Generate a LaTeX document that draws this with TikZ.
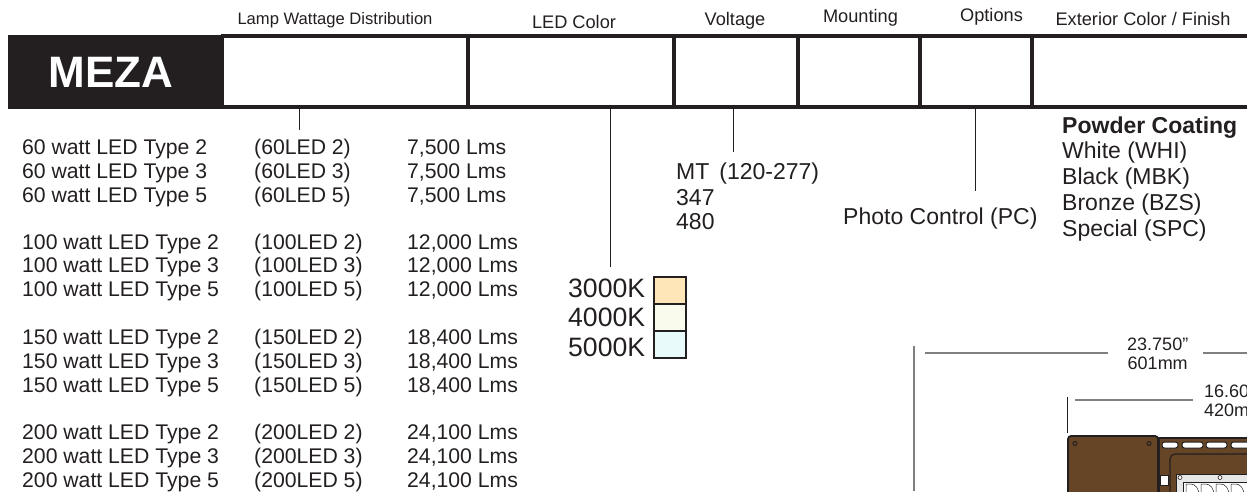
\documentclass[tikz,border=0pt]{standalone}
\usepackage{fontspec}
\setmainfont{Liberation Sans}
\definecolor{ink}{HTML}{231F20}
\definecolor{dimline}{HTML}{808080}
\definecolor{warmled}{HTML}{FFE6B8}
\definecolor{neutralled}{HTML}{F9FCEC}
\definecolor{coolled}{HTML}{E8FAFA}
\definecolor{finish}{HTML}{654525}
\definecolor{platefill}{HTML}{E6E6E6}

\begin{document}
\begin{tikzpicture}[x=1pt,y=-1pt,
  cell/.style={draw=ink,line width=3.6pt,fill=white,inner sep=0pt,minimum height=71pt},
  head/.style={text=ink,font=\fontsize{18.2}{20}\selectfont,inner sep=0pt},
  row/.style={text=ink,font=\fontsize{21.2}{24}\selectfont,inner sep=0pt,anchor=base west},
  opt/.style={text=ink,font=\fontsize{23}{26}\selectfont,inner sep=0pt,anchor=base west},
  big/.style={text=ink,font=\fontsize{26.6}{29}\selectfont,inner sep=0pt,anchor=base west},
  dim/.style={text=ink,font=\fontsize{18}{19}\selectfont,inner sep=0pt},
  swatch/.style={draw=ink,line width=1.2pt,minimum width=32pt,minimum height=27pt,inner sep=0pt},
  tick/.style={draw=ink,line width=1pt},
  dimrule/.style={draw=dimline,line width=1.3pt}]
\useasboundingbox (0,0) rectangle (1247,491);

% order bar
\node[cell,minimum width=246pt] (lamp) at (345.5,71.5) {};
\node[cell,minimum width=206pt] (color) at (571,71.5) {};
\node[cell,minimum width=124pt] (volt) at (736,71.5) {};
\node[cell,minimum width=122pt] (mount) at (859,71.5) {};
\node[cell,minimum width=112pt] (options) at (976,71.5) {};
\node[cell,minimum width=240pt] (ext) at (1152,71.5) {};
\node[fill=ink,minimum width=215pt,minimum height=74pt,inner sep=0pt] (bar) at (115.5,71.5) {};
\node[text=white,font=\fontsize{44}{50}\bfseries\selectfont,inner sep=0pt] (meza) at (111,72.5) {MEZA};

\node[head,font=\fontsize{16.6}{18}\selectfont] (h1) at (335,20) {Lamp Wattage Distribution};
\node[head] (h2) at (574,22) {LED Color};
\node[head] (h3) at (735,21) {Voltage};
\node[head] (h4) at (860.5,18) {Mounting};
\node[head] (h5) at (991.5,17) {Options};
\node[head] (h6) at (1143,19) {Exterior Color / Finish};

% wattage table
\node[row] (a1) at (22,154) {60 watt LED Type 2};
\node[row] (a2) at (22,178) {60 watt LED Type 3};
\node[row] (a3) at (22,202) {60 watt LED Type 5};
\node[row] (a4) at (22,249) {100 watt LED Type 2};
\node[row] (a5) at (22,272) {100 watt LED Type 3};
\node[row] (a6) at (22,296) {100 watt LED Type 5};
\node[row] (a7) at (22,344) {150 watt LED Type 2};
\node[row] (a8) at (22,368) {150 watt LED Type 3};
\node[row] (a9) at (22,392) {150 watt LED Type 5};
\node[row] (a10) at (22,439) {200 watt LED Type 2};
\node[row] (a11) at (22,463) {200 watt LED Type 3};
\node[row] (a12) at (22,487) {200 watt LED Type 5};

\node[row] (b1) at (254,154) {(60LED 2)};
\node[row] (b2) at (254,178) {(60LED 3)};
\node[row] (b3) at (254,202) {(60LED 5)};
\node[row] (b4) at (254,249) {(100LED 2)};
\node[row] (b5) at (254,272) {(100LED 3)};
\node[row] (b6) at (254,296) {(100LED 5)};
\node[row] (b7) at (254,344) {(150LED 2)};
\node[row] (b8) at (254,368) {(150LED 3)};
\node[row] (b9) at (254,392) {(150LED 5)};
\node[row] (b10) at (254,439) {(200LED 2)};
\node[row] (b11) at (254,463) {(200LED 3)};
\node[row] (b12) at (254,487) {(200LED 5)};

\node[row] (c1) at (407,154) {7,500 Lms};
\node[row] (c2) at (407,178) {7,500 Lms};
\node[row] (c3) at (407,202) {7,500 Lms};
\node[row] (c4) at (407,249) {12,000 Lms};
\node[row] (c5) at (407,272) {12,000 Lms};
\node[row] (c6) at (407,296) {12,000 Lms};
\node[row] (c7) at (407,344) {18,400 Lms};
\node[row] (c8) at (407,368) {18,400 Lms};
\node[row] (c9) at (407,392) {18,400 Lms};
\node[row] (c10) at (407,439) {24,100 Lms};
\node[row] (c11) at (407,463) {24,100 Lms};
\node[row] (c12) at (407,487) {24,100 Lms};

% led color
\node[big] (k1) at (568,297) {3000K};
\node[big] (k2) at (568,326) {4000K};
\node[big] (k3) at (568,356) {5000K};
\node[swatch,fill=warmled] (s1) at (670,290.5) {};
\node[swatch,fill=neutralled] (s2) at (670,317.5) {};
\node[swatch,fill=coolled] (s3) at (670,344.5) {};

% voltage
\node[opt] (v1) at (676,179) {MT\hspace{10pt}(120-277)};
\node[opt] (v2) at (676,205) {347};
\node[opt] (v3) at (676,229) {480};

% options
\node[opt] (pc) at (843,224) {Photo Control (PC)};

% finish
\node[opt,font=\fontsize{23}{26}\bfseries\selectfont] (f0) at (1062,133) {Powder Coating};
\node[opt] (f1) at (1062,158) {White (WHI)};
\node[opt] (f2) at (1062,184) {Black (MBK)};
\node[opt] (f3) at (1062,210) {Bronze (BZS)};
\node[opt] (f4) at (1062,236) {Special (SPC)};

% leaders
\coordinate (t1) at (299,108);
\coordinate (t1e) at (299,130);
\coordinate (t2) at (610,108);
\coordinate (t2e) at (610,267);
\coordinate (t3) at (733,108);
\coordinate (t3e) at (733,152);
\coordinate (t4) at (975,108);
\coordinate (t4e) at (975,191);
\draw[tick] (t1) -- (t1e);
\draw[tick] (t2) -- (t2e);
\draw[tick] (t3) -- (t3e);
\draw[tick] (t4) -- (t4e);

% dimensions
\node[dim,align=center,anchor=north west] (d1) at (1127,338) {23.750”\\601mm};
\node[dim,align=left,anchor=north west] (d2) at (1204,385) {16.60”\\420mm};
\coordinate (d1a) at (925,353);
\coordinate (d1b) at (1108,353);
\coordinate (d1c) at (1203,353);
\coordinate (d1d) at (1247,353);
\coordinate (d1e) at (914,346);
\coordinate (d1f) at (914,491);
\coordinate (d2a) at (1075,400);
\coordinate (d2b) at (1193,400);
\coordinate (d2c) at (1067,397);
\coordinate (d2d) at (1067,433);
\draw[dimrule] (d1a) -- (d1b);
\draw[dimrule] (d1c) -- (d1d);
\draw[dimrule] (d1e) -- (d1f);
\draw[dimrule] (d2a) -- (d2b);
\draw[draw=ink,line width=.6pt] (d2c) -- (d2d);

% fixture
\draw[fill=finish,draw=ink,line width=1.2pt] (1159,438) -- (1250,438) -- (1250,495) -- (1159,495) -- cycle;
\draw[fill=finish,draw=ink,line width=1.8pt,rounded corners=3pt] (1068,495) -- (1068,436) -- (1158,436) -- (1158,495);
\foreach \x in {1075,1149} \draw[draw=ink,fill=finish,line width=1pt] (\x,443.5) circle (2pt);
\draw[fill=white,draw=ink,line width=1pt,rounded corners=2.5pt] (1162,442) rectangle (1178,448);
\foreach \x in {1182,1206,1231} \draw[fill=white,draw=ink,line width=1pt,rounded corners=2.5pt] (\x,442) rectangle +(21,6);
\draw[fill=finish,draw=ink,line width=1.2pt,rounded corners=5pt] (1170,495) -- (1170,454) -- (1250,454);
\draw[fill=white,draw=ink,line width=1pt] (1160,475) rectangle (1168,485);
\draw[fill=platefill,draw=ink,line width=.8pt] (1176,474) rectangle (1250,495);
\foreach \x in {1180,1220} \draw[fill=white,draw=ink,line width=.6pt] (\x,477.5) circle (2pt);
\draw[fill=white,draw=ink,line width=.6pt] (1183,482) rectangle (1250,495);
\foreach \x in {1186,1201,1216,1231} \draw[draw=ink,line width=.5pt] (\x,495) -- (\x,484) -- (\x+5,484) arc (90:0:8pt and 11pt);
\end{tikzpicture}
\end{document}
